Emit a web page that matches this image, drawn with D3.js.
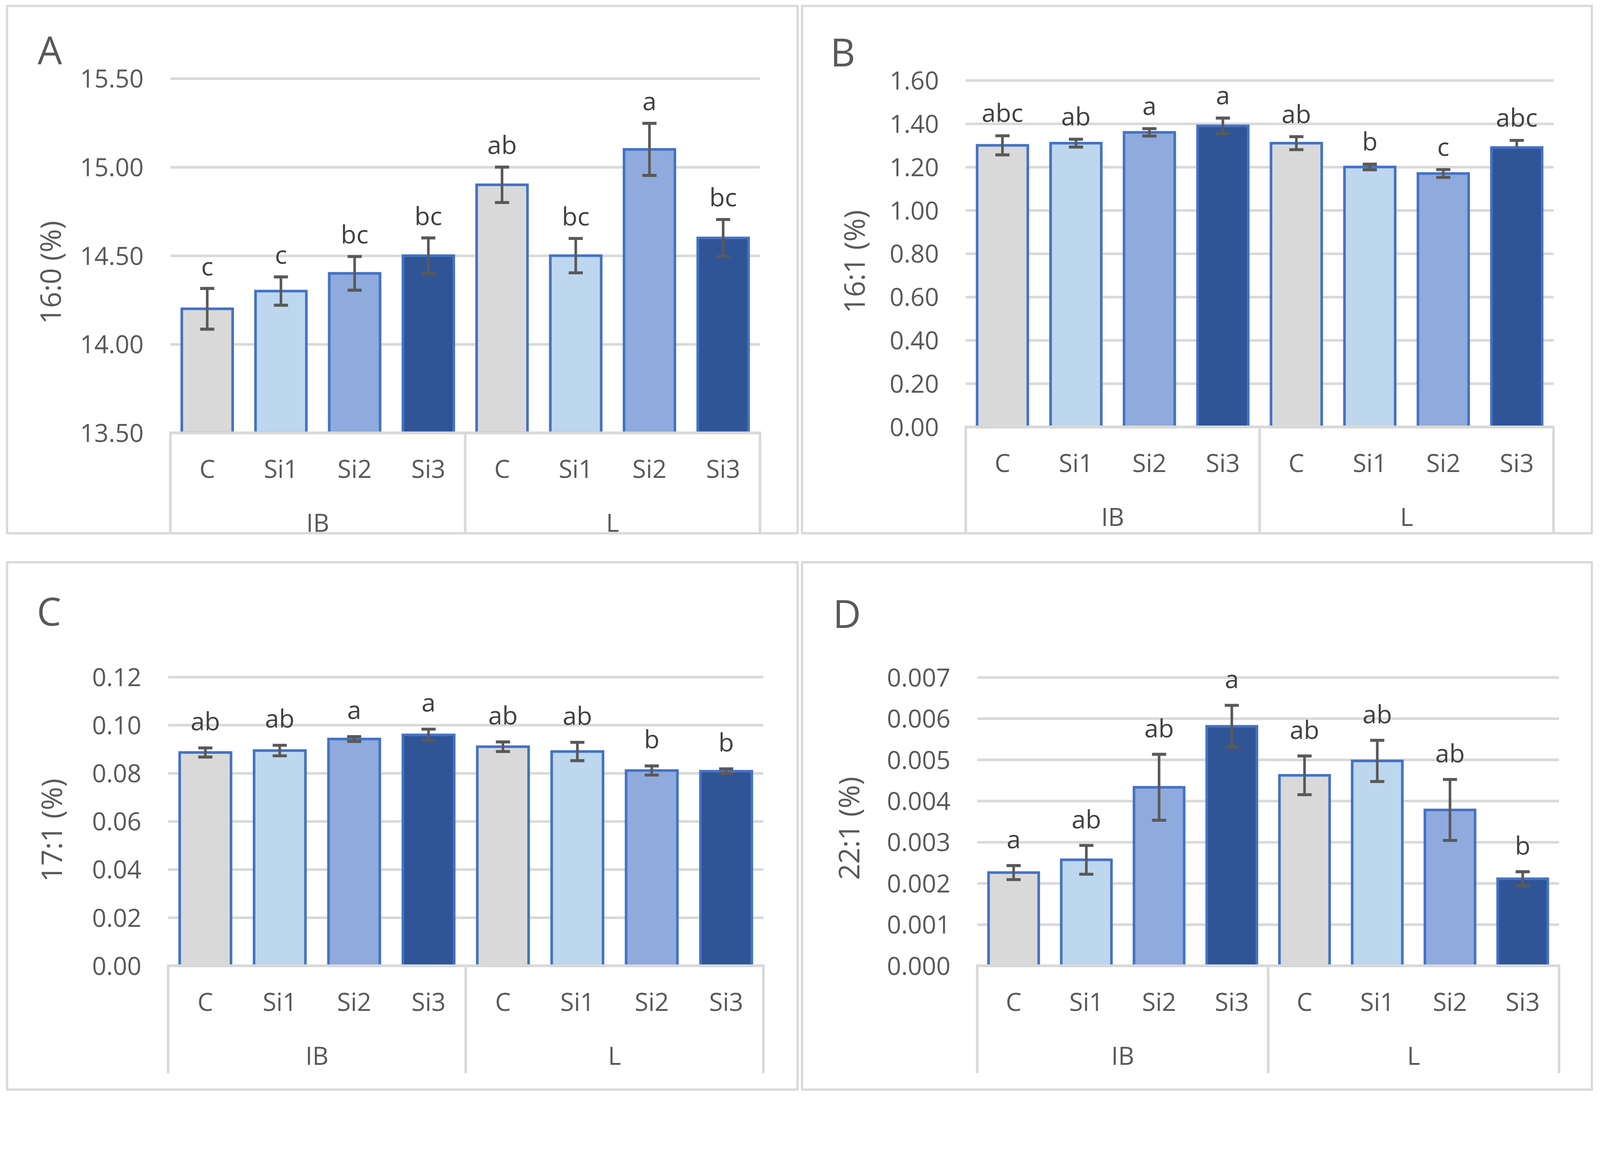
<!DOCTYPE html>
<html>
<head>
<meta charset="utf-8">
<script src="https://cdn.jsdelivr.net/npm/d3@7"></script>
<style>
  html, body { margin: 0; padding: 0; background: #ffffff; width: 100%; height: 100%; overflow: hidden; }
  svg { display: block; width: 100vw; height: 100vh; }
  text { font-family: "Open Sans", "Liberation Sans", sans-serif; }
</style>
</head>
<body>
<script>
// ---------------- DATA ----------------
const subCategories = ["C", "Si1", "Si2", "Si3", "C", "Si1", "Si2", "Si3"];
const groups = ["IB", "L"];
const fillColors = ["#D9D9D9", "#BDD7EE", "#8FAADC", "#2F5597", "#D9D9D9", "#BDD7EE", "#8FAADC", "#2F5597"];

// Panel A : 16:0 (%)
const aValues  = [14.20, 14.30, 14.40, 14.50, 14.90, 14.50, 15.10, 14.60];
const aErrors  = [0.115, 0.080, 0.095, 0.100, 0.100, 0.097, 0.147, 0.104];
const aLetters = ["c", "c", "bc", "bc", "ab", "bc", "a", "bc"];
const aTicks   = [13.50, 14.00, 14.50, 15.00, 15.50];

// Panel B : 16:1 (%)
const bValues   = [1.30, 1.31, 1.36, 1.39, 1.31, 1.20, 1.17, 1.29];
const bErrors   = [0.044, 0.018, 0.017, 0.036, 0.030, 0.013, 0.018, 0.033];
const bErrorsLo = [0.044, 0.018, 0.017, 0.036, 0.030, 0.013, 0.018, 0.000];
const bLetters  = ["abc", "ab", "a", "a", "ab", "b", "c", "abc"];
const bTicks    = [0.00, 0.20, 0.40, 0.60, 0.80, 1.00, 1.20, 1.40, 1.60];

// Panel C : 17:1 (%)
const cValues  = [0.0886, 0.0894, 0.0942, 0.0959, 0.0910, 0.0890, 0.0811, 0.0808];
const cErrors  = [0.0019, 0.0022, 0.0010, 0.0024, 0.0020, 0.0038, 0.0019, 0.0010];
const cLetters = ["ab", "ab", "a", "a", "ab", "ab", "b", "b"];
const cTicks   = [0.00, 0.02, 0.04, 0.06, 0.08, 0.10, 0.12];

// Panel D : 22:1 (%)
const dValues  = [0.00226, 0.00257, 0.00433, 0.00581, 0.00462, 0.00497, 0.00378, 0.00211];
const dErrors  = [0.00017, 0.00035, 0.00080, 0.00051, 0.00047, 0.00050, 0.00074, 0.00017];
const dLetters = ["a", "ab", "ab", "a", "ab", "ab", "ab", "b"];
const dTicks   = [0.000, 0.001, 0.002, 0.003, 0.004, 0.005, 0.006, 0.007];

const panelNames = ["A", "B", "C", "D"];
const axisTitles = ["16:0 (%)", "16:1 (%)", "17:1 (%)", "22:1 (%)"];

// ---------------- LAYOUT ----------------
const W = 4301, H = 2943;
const panels = [
  { name: panelNames[0], title: axisTitles[0], values: aValues, errHi: aErrors, errLo: aErrors, letters: aLetters, ticks: aTicks, fmt: ".2f",
    frame: [19, 16, 2144, 1433], px: [458, 2043], py: [1163, 211], catBottom: 1433, titleX: 136, titleY: 732, nameX: 101, nameY: 172, gap: 35 },
  { name: panelNames[1], title: axisTitles[1], values: bValues, errHi: bErrors, errLo: bErrorsLo, letters: bLetters, ticks: bTicks, fmt: ".2f",
    frame: [2156, 16, 4279, 1433], px: [2596, 4176], py: [1147, 216], catBottom: 1433, titleX: 2297, titleY: 703, nameX: 2232, nameY: 178, gap: 37 },
  { name: panelNames[2], title: axisTitles[2], values: cValues, errHi: cErrors, errLo: cErrors, letters: cLetters, ticks: cTicks, fmt: ".2f",
    frame: [19, 1511, 2144, 2928], px: [452, 2052], py: [2595, 1819], catBottom: 2884, titleX: 140, titleY: 2231, nameX: 99, nameY: 1681, gap: 47 },
  { name: panelNames[3], title: axisTitles[3], values: dValues, errHi: dErrors, errLo: dErrors, letters: dLetters, ticks: dTicks, fmt: ".3f",
    frame: [2156, 1511, 4279, 2928], px: [2627, 4191], py: [2595, 1820], catBottom: 2884, titleX: 2283, titleY: 2226, nameX: 2239, nameY: 1687, gap: 46 }
];

const GRID = "#D9D9D9", TXT = "#595959", LBL = "#404040", BAR_STROKE = "#4472C4", ERR = "#595959";

const svg = d3.select("body").append("svg")
  .attr("viewBox", `0 0 ${W} ${H}`)
  .attr("preserveAspectRatio", "xMinYMin meet");
svg.append("rect").attr("width", W).attr("height", H).attr("fill", "#ffffff");

panels.forEach(p => {
  const g = svg.append("g");
  const [fx0, fy0, fx1, fy1] = p.frame;
  g.append("rect").attr("x", fx0).attr("y", fy0).attr("width", fx1 - fx0).attr("height", fy1 - fy0)
    .attr("fill", "#ffffff").attr("stroke", GRID).attr("stroke-width", 6);

  const idx = d3.range(p.values.length);
  const x = d3.scaleBand().domain(idx).range(p.px).paddingInner(0.31).paddingOuter(0.155);
  const yDom = [p.ticks[0], p.ticks[p.ticks.length - 1]];
  const y = d3.scaleLinear().domain(yDom).range(p.py);
  const plotW = p.px[1] - p.px[0];

  // gridlines + tick labels
  const yAxis = d3.axisLeft(y).tickValues(p.ticks).tickFormat(d3.format(p.fmt)).tickSize(-plotW).tickPadding(72);
  const ya = g.append("g").attr("transform", `translate(${p.px[0]},0)`).call(yAxis);
  ya.select(".domain").remove();
  ya.selectAll(".tick line").attr("stroke", GRID).attr("stroke-width", 7);
  ya.selectAll(".tick text").attr("fill", TXT).attr("font-size", 67).attr("dy", "0.36em")
    .attr("font-family", "'Open Sans', 'Liberation Sans', sans-serif");

  // bars
  g.append("g").selectAll("rect").data(idx).join("rect")
    .attr("x", i => x(i))
    .attr("y", i => y(p.values[i]))
    .attr("width", x.bandwidth())
    .attr("height", i => y(yDom[0]) - y(p.values[i]))
    .attr("fill", i => fillColors[i])
    .attr("stroke", BAR_STROKE)
    .attr("stroke-width", 7);

  // category axis (baseline, box, labels)
  const base = y(yDom[0]);
  g.append("line").attr("x1", p.px[0] - 3).attr("x2", p.px[1] + 3).attr("y1", base).attr("y2", base)
    .attr("stroke", GRID).attr("stroke-width", 7);
  const sepX = [p.px[0], (p.px[0] + p.px[1]) / 2, p.px[1]];
  g.append("g").selectAll("line").data(sepX).join("line")
    .attr("x1", d => d).attr("x2", d => d).attr("y1", base).attr("y2", p.catBottom)
    .attr("stroke", GRID).attr("stroke-width", 7);

  const xAxis = d3.axisBottom(x).tickFormat(i => subCategories[i]).tickSize(0).tickPadding(0);
  const xa = g.append("g").attr("transform", `translate(0,${base + 97})`).call(xAxis);
  xa.select(".domain").remove();
  xa.selectAll(".tick text").attr("fill", TXT).attr("font-size", 67).attr("dy", "0.36em")
    .attr("font-family", "'Open Sans', 'Liberation Sans', sans-serif");

  const gx = d3.scaleBand().domain(groups).range(p.px);
  g.append("g").selectAll("text").data(groups).join("text")
    .attr("x", d => gx(d) + gx.bandwidth() / 2)
    .attr("y", base + 242).attr("dy", "0.36em")
    .attr("text-anchor", "middle").attr("fill", TXT).attr("font-size", 67).text(d => d);

  // error bars
  const cx = i => x(i) + x.bandwidth() / 2;
  const eb = g.append("g").attr("stroke", ERR).attr("stroke-width", 7);
  eb.selectAll("line.v").data(idx).join("line").attr("class", "v")
    .attr("x1", cx).attr("x2", cx)
    .attr("y1", i => y(p.values[i] + p.errHi[i]))
    .attr("y2", i => y(p.values[i] - p.errLo[i]));
  eb.selectAll("line.hi").data(idx).join("line").attr("class", "hi")
    .attr("x1", i => cx(i) - 19).attr("x2", i => cx(i) + 19)
    .attr("y1", i => y(p.values[i] + p.errHi[i])).attr("y2", i => y(p.values[i] + p.errHi[i]))
    .attr("stroke-width", 8);
  eb.selectAll("line.lo").data(idx.filter(i => p.errLo[i] > 0)).join("line").attr("class", "lo")
    .attr("x1", i => cx(i) - 19).attr("x2", i => cx(i) + 19)
    .attr("y1", i => y(p.values[i] - p.errLo[i])).attr("y2", i => y(p.values[i] - p.errLo[i]))
    .attr("stroke-width", 8);

  // significance letters
  g.append("g").selectAll("text").data(idx).join("text")
    .attr("x", cx)
    .attr("y", i => y(p.values[i] + p.errHi[i]) - p.gap)
    .attr("text-anchor", "middle").attr("fill", LBL).attr("font-size", 68)
    .text(i => p.letters[i]);

  // axis title
  g.append("text").attr("transform", `translate(${p.titleX},${p.titleY}) rotate(-90)`)
    .attr("text-anchor", "middle").attr("dy", "0.36em").attr("fill", TXT).attr("font-size", 76)
    .text(p.title);

  // panel letter
  g.append("text").attr("x", p.nameX).attr("y", p.nameY).attr("fill", TXT).attr("font-size", 104)
    .text(p.name);
});
</script>
</body>
</html>
